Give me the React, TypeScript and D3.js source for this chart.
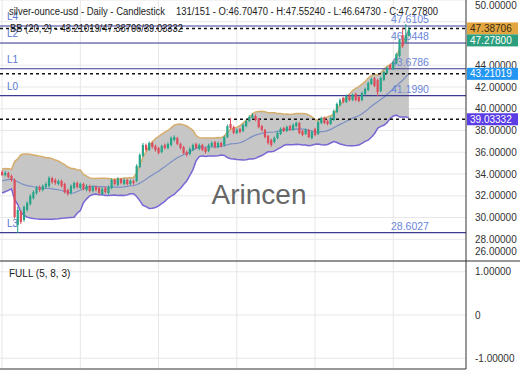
import { useEffect, useRef } from 'react'
import * as d3 from 'd3'

// daily candles (131 bars)
const opens = [
  34.18, 33.91, 34.09, 33.82, 33.45, 29.31, 30.51, 29.77, 30.69, 31.24,
  31.79, 32.25, 32.80, 32.53, 32.80, 32.90, 33.63, 33.45, 33.08, 33.36,
  33.08, 32.53, 32.25, 32.71, 33.17, 32.71, 33.08, 32.53, 32.90, 32.44,
  32.80, 32.71, 32.16, 32.71, 32.25, 32.71, 33.45, 32.99, 33.54, 33.08,
  33.45, 33.08, 33.36, 33.36, 34.64, 35.66, 36.67, 36.21, 36.85, 36.57,
  36.39, 36.02, 36.67, 36.39, 36.67, 37.13, 37.31, 36.76, 36.48, 36.02,
  35.84, 36.21, 36.76, 36.30, 36.67, 36.39, 36.12, 36.57, 36.94, 36.48,
  36.85, 36.67, 37.40, 38.60, 38.32, 37.77, 38.14, 37.95, 38.41, 38.87,
  39.15, 39.33, 39.06, 38.41, 38.05, 37.49, 37.13, 36.94, 37.31, 37.68,
  38.23, 37.95, 38.41, 38.05, 38.41, 38.69, 37.95, 37.68, 38.05, 37.31,
  38.14, 37.68, 38.69, 39.15, 38.87, 38.60, 38.97, 39.70, 40.34, 40.99,
  40.62, 41.17, 40.80, 41.36, 41.08, 40.80, 41.36, 41.72, 42.28, 42.83,
  42.64, 41.63, 42.64, 43.29, 44.02, 43.66, 44.21, 44.85, 46.78, 46.14,
  46.7047
]
const highs = [
  34.35, 34.28, 34.20, 33.95, 33.60, 30.97, 30.69, 31.10, 31.50, 32.15,
  32.50, 32.90, 32.95, 33.05, 33.25, 33.80, 33.75, 33.60, 33.50, 33.48,
  33.20, 32.65, 33.05, 33.30, 33.30, 33.22, 33.20, 33.05, 33.02, 32.95,
  32.92, 32.85, 32.78, 32.85, 32.95, 33.60, 33.58, 33.70, 33.65, 33.60,
  33.56, 33.50, 33.48, 34.90, 35.90, 36.85, 36.80, 37.00, 36.98, 36.70,
  36.50, 36.70, 36.80, 36.90, 37.45, 37.55, 37.42, 36.88, 36.60, 36.15,
  36.45, 36.80, 36.88, 36.80, 36.78, 36.50, 36.80, 37.00, 37.05, 36.98,
  36.96, 37.55, 38.55, 39.15, 38.45, 38.20, 38.25, 38.65, 39.00, 39.40,
  39.60, 39.48, 39.15, 38.52, 38.15, 37.60, 37.25, 37.45, 37.90, 38.28,
  38.35, 38.45, 38.52, 38.65, 38.82, 38.80, 38.05, 38.18, 38.15, 38.00,
  38.25, 38.90, 39.28, 39.28, 38.98, 39.28, 39.92, 40.58, 40.95, 41.10,
  41.30, 41.28, 41.40, 41.48, 41.20, 41.58, 41.95, 42.50, 42.88, 42.95,
  42.75, 42.95, 43.50, 43.88, 44.15, 44.42, 45.15, 46.45, 47.43, 47.79,
  47.5524
]
const lows = [
  33.80, 33.78, 33.60, 33.30, 29.90, 28.57, 29.40, 29.60, 30.55, 31.10,
  31.65, 32.10, 32.35, 32.40, 32.65, 32.75, 33.10, 33.00, 32.95, 32.75,
  32.20, 32.00, 32.10, 32.60, 32.65, 32.60, 32.50, 32.40, 32.30, 32.32,
  32.40, 32.10, 32.05, 32.20, 32.12, 32.60, 32.95, 32.88, 33.05, 32.96,
  32.95, 32.96, 33.02, 33.25, 34.55, 35.55, 36.05, 36.10, 36.35, 36.05,
  35.80, 35.90, 36.25, 36.28, 36.55, 37.00, 36.65, 36.25, 35.80, 35.60,
  35.72, 36.10, 36.28, 36.18, 36.10, 35.88, 36.00, 36.45, 36.35, 36.38,
  36.45, 36.55, 37.30, 38.10, 37.65, 37.65, 37.75, 37.85, 38.30, 38.75,
  39.05, 38.85, 38.20, 37.92, 37.28, 36.70, 36.50, 36.82, 37.20, 37.58,
  37.85, 37.85, 37.95, 37.95, 38.30, 37.65, 37.48, 37.58, 37.30, 37.20,
  37.48, 37.58, 38.58, 38.58, 38.48, 38.50, 38.88, 39.60, 40.22, 40.50,
  40.52, 40.68, 40.70, 40.68, 40.60, 40.70, 41.25, 41.62, 42.18, 41.98,
  41.17, 41.52, 42.55, 43.18, 43.55, 43.55, 44.10, 44.72, 45.60, 46.00,
  46.6473
]
const closes = [
  33.91, 34.09, 33.72, 33.45, 30.05, 30.69, 29.59, 30.97, 31.33, 31.98,
  32.34, 32.71, 32.53, 32.90, 33.08, 33.63, 33.26, 33.17, 33.36, 32.90,
  32.34, 32.16, 32.90, 33.17, 32.80, 33.08, 32.62, 32.90, 32.44, 32.80,
  32.53, 32.25, 32.62, 32.34, 32.80, 33.45, 33.08, 33.54, 33.17, 33.45,
  33.08, 33.36, 33.17, 34.74, 35.75, 36.67, 36.21, 36.85, 36.48, 36.21,
  35.93, 36.57, 36.39, 36.76, 37.31, 37.40, 36.76, 36.39, 35.93, 35.75,
  36.30, 36.67, 36.39, 36.67, 36.21, 36.02, 36.67, 36.85, 36.48, 36.85,
  36.57, 37.40, 38.41, 38.23, 37.77, 38.05, 37.86, 38.51, 38.87, 39.24,
  39.43, 38.97, 38.32, 38.05, 37.40, 36.85, 36.67, 37.31, 37.77, 38.14,
  37.95, 38.32, 38.05, 38.51, 38.69, 37.77, 37.59, 38.05, 37.40, 37.86,
  37.59, 38.78, 39.15, 38.69, 38.60, 39.15, 39.79, 40.44, 40.80, 40.62,
  41.17, 40.80, 41.26, 40.80, 40.71, 41.45, 41.82, 42.37, 42.74, 42.09,
  41.54, 42.83, 43.38, 43.75, 43.66, 44.30, 45.03, 46.32, 45.77, 46.78,
  47.278
]
// closes before the visible window, needed for the first BB(20) values
const warmupCloses = [
  32.45, 32.60, 32.52, 32.75, 32.90, 32.80, 33.05, 33.20, 33.10, 33.35,
  33.50, 33.42, 33.65, 33.80, 33.72, 33.95, 34.10, 34.02, 34.25
]

const priceTicks = [26, 28, 30, 32, 34, 36, 38, 40, 42, 44, 46, 48, 50]
const oscTicks = [1, 0, -1]
const gridBars = [0, 25, 50, 75, 100, 125]

const levelNames = ['L4', 'L2', 'L1', 'L0', 'L3']
const levelValues = [47.6105, 46.0448, 43.6786, 41.199, 28.6027]

// BB (20, 2) last values: middle / upper / lower
const bbLast = [43.21019, 47.38706, 39.03332]
const bbColors = ['#2196f3', '#e2a641', '#5b3de6']

const W = 520
const H = 390
const plotRight = 466
const mainBottom = 261
const oscBottom = 369

const App = () => {
  const ref = useRef(null)

  useEffect(() => {
    if (!ref.current) return
    const svg = d3.select(ref.current)
    svg.selectAll('*').remove()
    svg.style('font-family', '"Liberation Sans", Arial, sans-serif')

    const idx = closes.map((d, i) => i)
    const x = d3.scaleBand().domain(idx).range([1, 410]).paddingInner(0.3)
    const xc = i => x(i) + x.bandwidth() / 2
    const y = d3.scaleLinear().domain([26, 50]).range([mainBottom, 0])
    const yo = d3.scaleLinear().domain([-1.25, 1.25]).range([oscBottom, mainBottom])

    // bollinger bands
    const all = warmupCloses.concat(closes)
    const bands = closes.map((c, i) => {
      const win = all.slice(i, i + 20)
      const m = d3.mean(win)
      const sd = Math.sqrt(d3.mean(win, v => (v - m) * (v - m)))
      return { i, mid: m, up: m + 2 * sd, lo: m - 2 * sd }
    })

    // grid
    const grid = svg.append('g').attr('stroke', '#e7e7e7').attr('stroke-width', 1)
    grid.selectAll('.hg').data(priceTicks).enter().append('line')
      .attr('x1', 0).attr('x2', plotRight)
      .attr('y1', d => y(d)).attr('y2', d => y(d))
    grid.selectAll('.og').data(oscTicks).enter().append('line')
      .attr('x1', 0).attr('x2', plotRight)
      .attr('y1', d => yo(d)).attr('y2', d => yo(d))
    grid.selectAll('.vg').data(gridBars).enter().append('line')
      .attr('x1', d => xc(d)).attr('x2', d => xc(d))
      .attr('y1', 0).attr('y2', oscBottom)

    // band fill + edges
    svg.append('path')
      .datum(bands)
      .attr('fill', '#c6c6c6')
      .attr('d', d3.area().x(d => xc(d.i)).y0(d => y(d.lo)).y1(d => y(d.up)))
    const line = key => d3.line().x(d => xc(d.i)).y(d => y(d[key]))
    svg.append('path').datum(bands).attr('fill', 'none').attr('stroke', '#d6ae6c').attr('stroke-width', 1.5).attr('d', line('up'))
    svg.append('path').datum(bands).attr('fill', 'none').attr('stroke', '#7a8fc4').attr('stroke-width', 1.2).attr('d', line('mid'))
    svg.append('path').datum(bands).attr('fill', 'none').attr('stroke', '#7a66d4').attr('stroke-width', 1.5).attr('d', line('lo'))

    // dotted lines at last band values
    svg.selectAll('.bbl').data(bbLast).enter().append('line')
      .attr('x1', 0).attr('x2', plotRight)
      .attr('y1', d => y(d)).attr('y2', d => y(d))
      .attr('stroke', '#111').attr('stroke-width', 1.5).attr('stroke-dasharray', '3,3')

    // level lines
    const lv = svg.selectAll('.lv').data(levelValues).enter().append('g')
    lv.append('line')
      .attr('x1', 0).attr('x2', plotRight)
      .attr('y1', d => y(d)).attr('y2', d => y(d))
      .attr('stroke', '#3b3b94').attr('stroke-width', 1.2)
    lv.append('text')
      .attr('x', 7).attr('y', d => y(d) - 6)
      .attr('font-size', 10).attr('fill', '#5a78d0')
      .text((d, i) => levelNames[i])
    lv.append('text')
      .attr('x', 391).attr('y', d => y(d) - 3)
      .attr('font-size', 10.5).attr('fill', '#6a86da')
      .text(d => d.toFixed(4))

    // candles
    const c = svg.selectAll('.cd').data(idx).enter().append('g')
      .attr('fill', i => closes[i] >= opens[i] ? '#27a48a' : '#dd4d5c')
      .attr('stroke', i => closes[i] >= opens[i] ? '#27a48a' : '#dd4d5c')
    c.append('line')
      .attr('x1', i => xc(i)).attr('x2', i => xc(i))
      .attr('y1', i => y(highs[i])).attr('y2', i => y(lows[i]))
      .attr('stroke-width', 1)
    c.append('rect')
      .attr('x', i => x(i)).attr('width', x.bandwidth())
      .attr('y', i => y(Math.max(opens[i], closes[i])))
      .attr('height', i => Math.max(1, Math.abs(y(opens[i]) - y(closes[i]))))
      .attr('stroke', 'none')

    // watermark
    svg.append('text')
      .attr('x', 259).attr('y', 204)
      .attr('text-anchor', 'middle')
      .attr('font-size', 28).attr('fill', '#666')
      .text('Arincen')

    // frame
    svg.append('line').attr('x1', plotRight).attr('x2', plotRight).attr('y1', 0).attr('y2', oscBottom).attr('stroke', '#333')
    svg.append('line').attr('x1', 0).attr('x2', W).attr('y1', mainBottom).attr('y2', mainBottom).attr('stroke', '#333')
    svg.append('line').attr('x1', 0).attr('x2', plotRight).attr('y1', oscBottom).attr('y2', oscBottom).attr('stroke', '#333')

    // value boxes on the axis
    const boxes = [
      { v: bbLast[1], fill: bbColors[1], color: '#3b2a10' },
      { v: closes[closes.length - 1], fill: '#2b9f7d', color: '#fff' },
      { v: bbLast[0], fill: bbColors[0], color: '#fff' },
      { v: bbLast[2], fill: bbColors[2], color: '#fff' }
    ]
    let prev = -100
    boxes.forEach(b => {
      b.y = Math.max(y(b.v), prev + 12)
      prev = b.y
    })

    // right axis labels (skip the ones hidden under a box)
    const shown = priceTicks.filter(t => {
      const ty = Math.min(251, Math.max(5, y(t)))
      return !boxes.some(b => Math.abs(b.y - ty) < 7)
    })
    svg.selectAll('.pt').data(shown).enter().append('text')
      .attr('x', 475)
      .attr('y', d => Math.min(251, Math.max(5, y(d))))
      .attr('dy', '0.35em')
      .attr('font-size', 10).attr('fill', '#333')
      .text(d => d.toFixed(5))
    svg.selectAll('.ot').data(oscTicks).enter().append('text')
      .attr('x', 475)
      .attr('y', d => yo(d))
      .attr('dy', '0.35em')
      .attr('font-size', 10).attr('fill', '#333')
      .text(d => d === 0 ? '0' : d.toFixed(5))

    const bx = svg.selectAll('.bx').data(boxes).enter().append('g')
    bx.append('rect')
      .attr('x', 467).attr('width', 51)
      .attr('y', d => d.y - 6).attr('height', 12)
      .attr('fill', d => d.fill)
    bx.append('text')
      .attr('x', 470).attr('y', d => d.y)
      .attr('dy', '0.35em')
      .attr('font-size', 10).attr('fill', d => d.color)
      .text(d => d.v.toFixed(5))

    // headers
    svg.append('text').attr('x', 9).attr('y', 15).attr('font-size', 10).attr('fill', '#222')
      .attr('textLength', 156).attr('lengthAdjust', 'spacingAndGlyphs')
      .text('silver-ounce-usd - Daily - Candlestick')
    svg.append('text').attr('x', 176).attr('y', 15).attr('font-size', 10).attr('fill', '#222')
      .attr('textLength', 262).attr('lengthAdjust', 'spacingAndGlyphs')
      .text('131/151 - O:46.70470 - H:47.55240 - L:46.64730 - C:47.27800')
    svg.append('text').attr('x', 10).attr('y', 32).attr('font-size', 10).attr('fill', '#222')
      .attr('textLength', 173).attr('lengthAdjust', 'spacingAndGlyphs')
      .text('BB (20, 2) - ' + bbLast.map(d => d.toFixed(5)).join('/'))
    svg.append('text').attr('x', 9).attr('y', 277).attr('font-size', 10).attr('fill', '#222')
      .text('FULL (5, 8, 3)')
  }, [])

  return (
    <svg
      ref={ref}
      width={W}
      height={H}
      style={{ position: 'absolute', left: 0, top: 0, background: '#fff' }}
    />
  )
}

export default App
